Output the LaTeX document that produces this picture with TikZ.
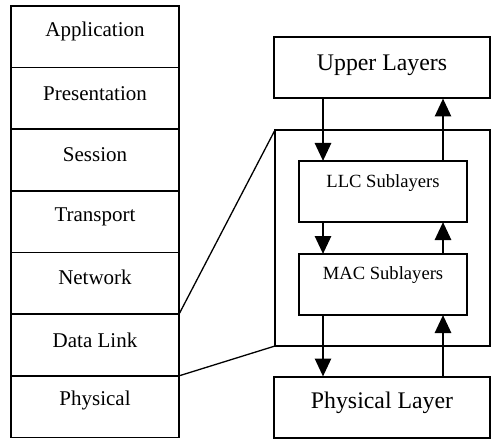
\documentclass[tikz,border=0pt]{standalone}
\usepackage{fontspec}
\setmainfont{Liberation Serif}
\usetikzlibrary{arrows.meta}
\begin{document}
\begin{tikzpicture}[x=0.5pt,y=-0.5pt,
  osi/.style={draw,line width=0.85pt,minimum width=84pt,minimum height=30.82pt,inner sep=0pt,outer sep=0pt},
  osilab/.style={font=\fontsize{10.5}{12}\selectfont,inner sep=0pt},
  bigbox/.style={draw,line width=1pt,minimum width=108pt,minimum height=30.5pt,inner sep=0pt,outer sep=0pt},
  biglab/.style={font=\fontsize{11.9}{14}\selectfont,inner sep=0pt},
  subbox/.style={draw,line width=1.1pt,minimum width=84pt,minimum height=30.5pt,inner sep=0pt,outer sep=0pt},
  sublab/.style={font=\fontsize{9.3}{11}\selectfont,inner sep=0pt},
  zoombox/.style={draw,line width=0.6pt,minimum width=107.5pt,minimum height=108pt,inner sep=0pt,outer sep=0pt},
  link/.style={line width=0.65pt},
  arr/.style={line width=1.4pt,-{Triangle[length=9pt,width=8pt]}}]
\useasboundingbox (0,0) rectangle (491,438);
% OSI stack
\node[osi] (app) at (95,36.82) {};
\node[osi] (pre) at (95,98.46) {};
\node[osi] (ses) at (95,160.1) {};
\node[osi] (tra) at (95,221.75) {};
\node[osi] (net) at (95,283.39) {};
\node[osi] (dl)  at (95,345.03) {};
\node[osi] (phy) at (95,406.68) {};
\node[osilab] (appt) at ([yshift=2.5pt]app.center) {Application};
\node[osilab] (pret) at ([yshift=2.5pt]pre.center) {Presentation};
\node[osilab] (sest) at ([yshift=2.5pt]ses.center) {Session};
\node[osilab] (trat) at ([yshift=2.5pt]tra.center) {Transport};
\node[osilab] (nett) at ([yshift=3pt]net.center) {Network};
\node[osilab] (dlt)  at ([yshift=2.5pt]dl.center) {Data Link};
\node[osilab] (phyt) at ([yshift=3pt]phy.center) {Physical};
% right side
\node[zoombox] (zoom) at (382.5,238) {};
\node[bigbox] (upper) at (382,68) {};
\node[biglab] (uppert) at ([yshift=1.5pt]upper.center) {Upper Layers};
\node[subbox] (llc) at (383,191.5) {};
\node[sublab] (llct) at ([yshift=4pt]llc.center) {LLC Sublayers};
\node[subbox] (mac) at (383,284.5) {};
\node[sublab] (mact) at ([yshift=4.5pt]mac.center) {MAC Sublayers};
\node[bigbox] (phl) at (382,407) {};
\node[biglab] (phlt) at ([yshift=2pt]phl.center) {Physical Layer};
% zoom lines
\draw[link] (net.south east) -- (zoom.north west);
\draw[link] (dl.south east) -- (zoom.south west);
% arrows
\coordinate (dx) at (323,0);
\coordinate (ux) at (443,0);
\draw[arr] (upper.south -| dx) -- (llc.north -| dx);
\draw[arr] (llc.north -| ux) -- (upper.south -| ux);
\draw[arr] (llc.south -| dx) -- (mac.north -| dx);
\draw[arr] (mac.north -| ux) -- (llc.south -| ux);
\draw[arr] (mac.south -| dx) -- (phl.north -| dx);
\draw[arr] (phl.north -| ux) -- (mac.south -| ux);
\end{tikzpicture}
\end{document}
